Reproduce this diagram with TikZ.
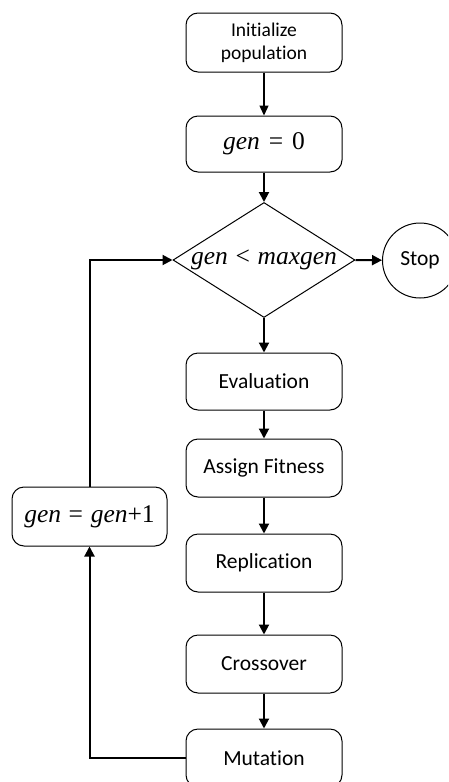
\documentclass[tikz,border=0pt]{standalone}
\usepackage{fontspec}
\setmainfont{Carlito}[Ligatures={NoCommon}]
\newfontfamily\tmsfont{Liberation Serif}
\usetikzlibrary{shapes.geometric,arrows.meta}

% italic variable names in the formula boxes
\newcommand\gvar[1]{{\itshape #1}}

\begin{document}
\begin{tikzpicture}[x=1pt,y=-1pt,
  stepbox/.style={draw, line width=1pt, rounded corners=12pt,
    minimum width=156pt, minimum height=58pt, inner sep=0pt,
    font=\fontsize{21.5}{25}\selectfont},
  formula/.style={font=\fontsize{25.5}{30}\selectfont\tmsfont},
  conn/.style={line width=2pt, -{Triangle[length=10pt,width=10pt]}},
  thinconn/.style={line width=1.3pt, -{Triangle[length=10pt,width=9pt]}}]
\useasboundingbox (0,0) rectangle (448,782);
\clip (0,0) rectangle (448,782);

% main column
\node[stepbox, minimum height=59pt, align=center,
      font=\fontsize{19.5}{23}\selectfont] (init) at (264,42.5)
  {Initialize\\population};
\node[stepbox, minimum height=56pt, formula] (gen0) at (264,144)
  {\gvar{gen}\hspace{.35em}=\hspace{.35em}0};
\node[diamond, draw, line width=1pt, minimum width=182pt,
      minimum height=115pt, inner sep=0pt] (test) at (264,260) {};
\node[formula, inner sep=0pt] (testlbl) at (test.center)
  {\gvar{gen}\hspace{.3em}<\hspace{.3em}\gvar{maxgen}};
\node[circle, draw, line width=1pt, minimum size=75pt, inner sep=0pt,
      font=\fontsize{21.5}{25}\selectfont] (stop) at (420,260.5) {Stop};
\node[stepbox, minimum height=57pt] (eval) at (264,381.5) {Evaluation};
\node[stepbox] (fit) at (264,468) {Assign Fitness};
\node[stepbox] (rep) at (264,563) {Replication};
\node[stepbox] (cross) at (264,664) {Crossover};
\node[stepbox] (mut) at (264,758) {Mutation};

% loop-back counter
\node[stepbox, minimum width=155pt, minimum height=59pt, formula]
  (incr) at (89.5,516.5)
  {\gvar{gen}\hspace{.3em}=\hspace{.3em}\gvar{gen}+1};

% flow
\draw[thinconn] (init) -- (gen0);
\draw[conn] (gen0) -- (test.north);
\draw[conn] (test.east) -- (stop);
\draw[conn] (test.south) -- (eval);
\draw[conn] (eval) -- (fit);
\draw[conn] (fit) -- (rep);
\draw[conn] (rep) -- (cross);
\draw[conn] (cross) -- (mut);
\draw[conn] (mut.west) -| (incr.south);
\draw[conn] (incr.north) |- (test.west);
\end{tikzpicture}
\end{document}
